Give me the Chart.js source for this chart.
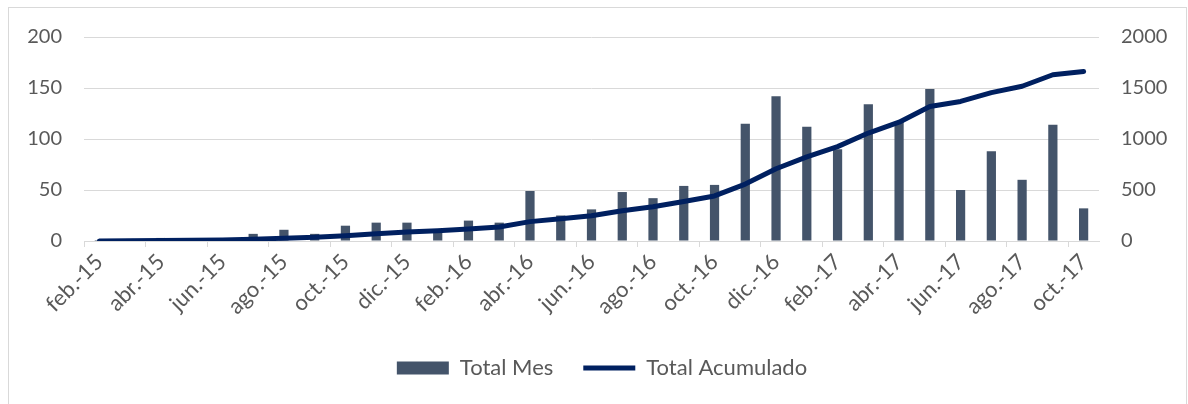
<!DOCTYPE html>
<html>
<head>
<meta charset="utf-8">
<script src="https://cdn.jsdelivr.net/npm/chart.js@4/dist/chart.umd.min.js"></script>
<style>
  html, body { margin: 0; padding: 0; background: #ffffff; }
  #frame { position: absolute; left: 8px; top: 7px; width: 1179px; height: 420px;
           border: 1px solid #d9d9d9; box-sizing: border-box; }
  #c { position: absolute; left: 0; top: 0; }
</style>
</head>
<body>
<div id="frame"></div>
<canvas id="c" width="1188" height="404"></canvas>
<script>
// Monthly categories, Feb 2015 - Oct 2017
const months = [
  'feb.-15','mar.-15','abr.-15','may.-15','jun.-15','jul.-15','ago.-15','sep.-15','oct.-15','nov.-15','dic.-15',
  'ene.-16','feb.-16','mar.-16','abr.-16','may.-16','jun.-16','jul.-16','ago.-16','sep.-16','oct.-16','nov.-16','dic.-16',
  'ene.-17','feb.-17','mar.-17','abr.-17','may.-17','jun.-17','jul.-17','ago.-17','sep.-17','oct.-17'
];

// Monthly totals (left axis)
const totalMes = [
  1, 2, 3, 2, 2, 7, 11, 7, 15, 18, 18,
  10, 20, 18, 49, 25, 31, 48, 42, 54, 55, 115, 142,
  112, 90, 134, 117, 149, 50, 88, 60, 114, 32
];

// Running total (right axis)
const totalAcumulado = [
  1, 3, 6, 8, 10, 17, 28, 36, 52, 70, 88,
  100, 118, 138, 190, 218, 248, 297, 336, 388, 442, 558, 708,
  825, 925, 1058, 1165, 1318, 1368, 1455, 1517, 1630, 1662
];

const leftTicks = [0, 50, 100, 150, 200];
const rightTicks = [0, 500, 1000, 1500, 2000];

const textColor = '#595959';
const gridColor = '#d9d9d9';
const family = 'Lato, "Open Sans", sans-serif';
const axisFont = { family: family, size: 20 };
const labelFont = { family: family, size: 22 };

new Chart(document.getElementById('c'), {
  data: {
    labels: months,
    datasets: [
      {
        type: 'bar',
        label: 'Total Mes',
        data: totalMes,
        yAxisID: 'yL',
        backgroundColor: '#44546a',
        borderWidth: 0,
        barPercentage: 0.3,
        categoryPercentage: 1.0,
        pointStyle: 'rect',
        order: 1
      },
      {
        type: 'line',
        label: 'Total Acumulado',
        data: totalAcumulado,
        yAxisID: 'yR',
        borderColor: '#002060',
        backgroundColor: '#002060',
        borderWidth: 5,
        borderCapStyle: 'round',
        borderJoinStyle: 'round',
        pointRadius: 0,
        pointStyle: 'line',
        tension: 0,
        fill: false,
        order: 0
      }
    ]
  },
  options: {
    responsive: false,
    animation: false,
    layout: { padding: { top: 37, left: 16, right: 0, bottom: 15 } },
    plugins: {
      tooltip: { enabled: false },
      legend: {
        position: 'bottom',
        labels: {
          usePointStyle: true,
          pointStyleWidth: 52,
          boxHeight: 13,
          padding: 30,
          color: textColor,
          font: labelFont,
          sort: (a, b) => a.datasetIndex - b.datasetIndex
        }
      }
    },
    scales: {
      x: {
        type: 'category',
        offset: true,
        afterFit: (s) => { s.height = 86; },
        grid: {
          offset: true,
          drawOnChartArea: false,
          drawTicks: true,
          tickLength: 6,
          color: (ctx) => (ctx.index % 2 === 0 ? gridColor : 'rgba(0,0,0,0)')
        },
        border: { color: gridColor },
        ticks: {
          autoSkip: false,
          minRotation: 45,
          maxRotation: 45,
          padding: 2,
          color: textColor,
          font: labelFont,
          callback: (v, i) => (i % 2 === 0 ? months[i] : '')
        }
      },
      yL: {
        type: 'linear',
        position: 'left',
        min: 0,
        max: 200,
        afterFit: (s) => { s.width = 68; },
        afterBuildTicks: (s) => { s.ticks = leftTicks.map(v => ({ value: v })); },
        grid: { color: gridColor, drawTicks: false, lineWidth: 1 },
        border: { display: false },
        ticks: { padding: 22, color: textColor, font: axisFont, callback: (v) => String(v) }
      },
      yR: {
        type: 'linear',
        position: 'right',
        min: 0,
        max: 2000,
        afterFit: (s) => { s.width = 89; },
        afterBuildTicks: (s) => { s.ticks = rightTicks.map(v => ({ value: v })); },
        grid: { drawOnChartArea: false, drawTicks: false },
        border: { display: false },
        ticks: { padding: 22, color: textColor, font: axisFont, callback: (v) => String(v) }
      }
    }
  }
});
</script>
</body>
</html>
